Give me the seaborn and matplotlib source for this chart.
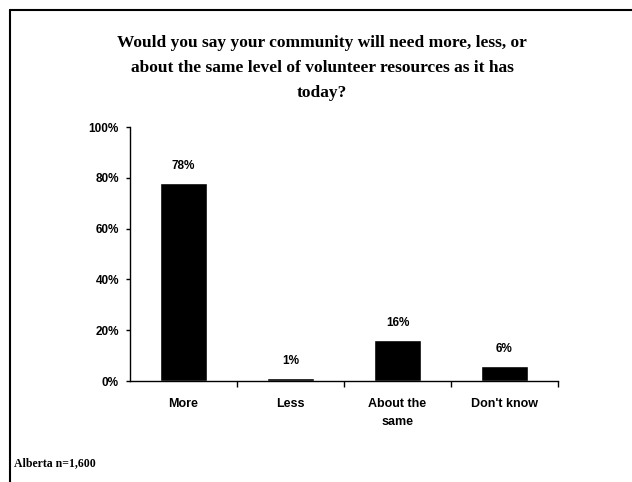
import matplotlib
matplotlib.use("Agg")
import matplotlib.pyplot as plt
import seaborn as sns
import pandas as pd
from matplotlib.lines import Line2D

categories = ["More", "Less", "About the\nsame", "Don't know"]
values = [78, 1, 16, 6]
value_labels = ["78%", "1%", "16%", "6%"]
y_ticks = [0, 20, 40, 60, 80, 100]
y_tick_labels = ["0%", "20%", "40%", "60%", "80%", "100%"]

sns.set_theme(style="white")
plt.rcParams['font.family'] = ['Liberation Sans', 'DejaVu Sans']
plt.rcParams['text.color'] = 'black'
plt.rcParams['xtick.color'] = 'black'
plt.rcParams['ytick.color'] = 'black'
plt.rcParams['xtick.labelcolor'] = 'black'
plt.rcParams['ytick.labelcolor'] = 'black'

df = pd.DataFrame({"category": categories, "value": values})

fig = plt.figure(figsize=(6.32, 4.82), dpi=100)
ax = fig.add_axes([130/632, 1-381/482, 428/632, 254/482])

sns.barplot(data=df, x="category", y="value", color="black", width=0.43,
            saturation=1, ax=ax)

ax.set_ylim(0, 100)
ax.set_xlim(-0.5, 3.5)
ax.set_yticks(y_ticks)
ax.set_yticklabels(y_tick_labels, fontsize=8.5, fontweight="bold")
ax.set_xticks([0.5, 1.5, 2.5, 3.5], minor=False)
ax.set_xticklabels([])
ax.set_xticks(range(len(categories)), minor=True)
ax.set_xticklabels(categories, minor=True, fontsize=9, fontweight="bold",
                   linespacing=1.75)
ax.tick_params(axis="x", which="major", length=4, width=1, direction="out", color="black", bottom=True)
ax.tick_params(axis="x", which="minor", length=0, pad=12)
ax.tick_params(axis="y", length=3, width=1, direction="out", color="black", left=True, pad=5)
ax.set_xlabel("")
ax.set_ylabel("")
for s in ["top", "right"]:
    ax.spines[s].set_visible(False)
for s in ["left", "bottom"]:
    ax.spines[s].set_color("black")
    ax.spines[s].set_linewidth(1)

for i, (v, lab) in enumerate(zip(values, value_labels)):
    ax.annotate(lab, (i, v), xytext=(0, 8), textcoords="offset points",
                ha="center", va="bottom", fontsize=8.5, fontweight="bold")

fig.text(322/632, 1-68/482,
         "Would you say your community will need more, less, or\n"
         "about the same level of volunteer resources as it has\ntoday?",
         ha="center", va="center", fontsize=12.5, fontweight="bold",
         family=["Liberation Serif", "DejaVu Serif"], linespacing=1.75)

fig.text(14/632, 1-463/482, "Alberta n=1,600", ha="left", va="center",
         fontsize=8.5, fontweight="bold", family=["Liberation Serif", "DejaVu Serif"])

fig.add_artist(Line2D([10/632, 10/632], [0, 1-10/482], color="black", lw=1.5,
                      transform=fig.transFigure))
fig.add_artist(Line2D([10/632, 1], [1-10/482, 1-10/482], color="black", lw=1.5,
                      transform=fig.transFigure))

fig.savefig("out.png", dpi=100)
